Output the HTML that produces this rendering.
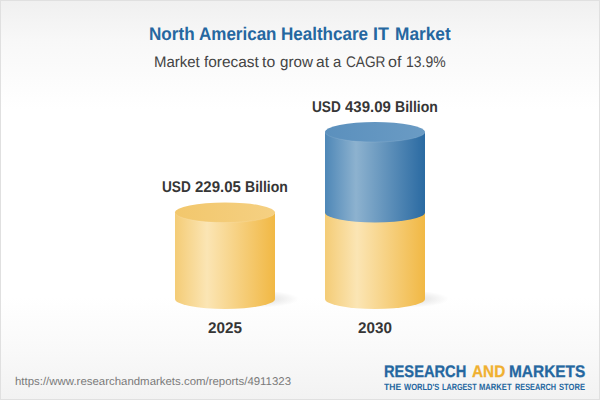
<!DOCTYPE html>
<html><head><meta charset="utf-8">
<style>
html,body{margin:0;padding:0;}
body{width:600px;height:400px;overflow:hidden;position:relative;font-family:"Liberation Sans",sans-serif;background:#fff;}
#bg{position:absolute;left:0;top:0;width:600px;height:400px;box-sizing:border-box;border:1px solid #e0e0e0;
background:linear-gradient(to bottom,#f0f0f0 0px,#f8f8f8 40px,#ffffff 108px,#ffffff 296px,#f9f9f9 350px,#f2f2f2 400px);}
.t{position:absolute;white-space:nowrap;transform-origin:0 0;text-rendering:geometricPrecision;}
.title{top:24px;font-size:18.3px;font-weight:bold;color:#2567a0;line-height:20px;}
.sub{top:53px;font-size:15.4px;color:#444;line-height:20px;}
.lab{font-weight:bold;color:#363636;font-size:15.5px;line-height:18px;}
#url{top:375px;font-size:11.3px;color:#7a7a7a;line-height:14px;}
.lg{font-weight:bold;font-size:16.9px;line-height:18px;top:363px;color:#2567a0;-webkit-text-stroke:0.3px currentColor;}
.tag{font-weight:bold;font-size:9.1px;line-height:10px;top:382.3px;color:#2567a0;}
svg{position:absolute;left:0;top:0;}
/*FIT-START*/
#ti0{left:148.77px;transform:scaleX(0.9359);}
#ti1{left:198.69px;transform:scaleX(0.9303);}
#ti2{left:280.73px;transform:scaleX(0.9309);}
#ti3{left:372.80px;transform:scaleX(0.9761);}
#ti4{left:394.72px;transform:scaleX(0.9443);}
#su0{left:153.51px;transform:scaleX(0.9725);}
#su1{left:203.99px;transform:scaleX(1.0015);}
#su2{left:261.85px;transform:scaleX(1.0255);}
#su3{left:279.82px;transform:scaleX(0.9856);}
#su4{left:315.96px;transform:scaleX(1.0115);}
#su5{left:332.75px;transform:scaleX(0.9668);}
#su6{left:345.78px;transform:scaleX(0.8877);}
#su7{left:387.66px;transform:scaleX(1.0450);}
#su8{left:405.70px;transform:scaleX(0.9072);}
#la0{left:161.79px;transform:scaleX(0.8790);}
#la1{left:194.72px;transform:scaleX(0.9677);}
#la2{left:244.90px;transform:scaleX(0.9059);}
#lb0{left:311.79px;transform:scaleX(0.8790);}
#lb1{left:344.67px;transform:scaleX(0.9669);}
#lb2{left:394.90px;transform:scaleX(0.9059);}
#ya0{left:207.57px;transform:scaleX(0.9864);}
#yb0{left:357.57px;transform:scaleX(0.9822);}
#url{left:14.77px;transform:scaleX(1.0114);}
#w1{left:383.69px;transform:scaleX(0.8683);}
#w2{left:471.89px;transform:scaleX(0.9077);}
#w3{left:508.75px;transform:scaleX(0.9140);}
#tg0{left:383.96px;transform:scaleX(0.9391);}
#tg1{left:403.77px;transform:scaleX(0.8311);}
#tg2{left:441.76px;transform:scaleX(0.7970);}
#tg3{left:478.63px;transform:scaleX(0.8378);}
#tg4{left:514.83px;transform:scaleX(0.8056);}
#tg5{left:558.62px;transform:scaleX(0.8351);}
/*FIT-END*/
</style></head><body>
<div id="bg"></div>
<svg width="600" height="400" viewBox="0 0 600 400">
<defs>
<linearGradient id="gy" x1="0" x2="1" y1="0" y2="0">
<stop offset="0" stop-color="#f4cc76"/>
<stop offset="0.32" stop-color="#fbe5b4"/>
<stop offset="1" stop-color="#f1b844"/>
</linearGradient>
<linearGradient id="gb" x1="0" x2="1" y1="0" y2="0">
<stop offset="0" stop-color="#4e87b7"/>
<stop offset="0.31" stop-color="#8db2cf"/>
<stop offset="1" stop-color="#2a6aa2"/>
</linearGradient>
<linearGradient id="ty" x1="0" x2="1" y1="0" y2="0"><stop offset="0" stop-color="#f2c76c"/><stop offset="1" stop-color="#f5d082"/></linearGradient>
<linearGradient id="tb" x1="0" x2="1" y1="0" y2="0"><stop offset="0" stop-color="#5b90bd"/><stop offset="1" stop-color="#6a9bc4"/></linearGradient>
<radialGradient id="sh" cx="0.5" cy="0.5" r="0.5">
<stop offset="0" stop-color="#000" stop-opacity="0.14"/>
<stop offset="1" stop-color="#000" stop-opacity="0"/>
</radialGradient>
</defs>
<ellipse cx="260" cy="299" rx="39" ry="8.5" fill="url(#sh)"/>
<ellipse cx="410" cy="299" rx="39" ry="8.5" fill="url(#sh)"/>
<path d="M175 212.5 L175 299 A50 10 0 0 0 275 299 L275 212.5 Z" fill="url(#gy)"/>
<ellipse cx="225" cy="212.5" rx="50" ry="10" fill="url(#ty)"/>
<path d="M175 212.5 A50 10 0 0 0 275 212.5" fill="none" stroke="#fff" stroke-opacity="0.14" stroke-width="0.8"/>
<path d="M325 212.5 L325 299 A50 10 0 0 0 425 299 L425 212.5 Z" fill="url(#gy)"/>
<path d="M325 132 L325 212.5 A50 10 0 0 0 425 212.5 L425 132 Z" fill="url(#gb)"/>
<ellipse cx="375" cy="132" rx="50" ry="10" fill="url(#tb)"/>
<path d="M325 132 A50 10 0 0 0 425 132" fill="none" stroke="#fff" stroke-opacity="0.12" stroke-width="0.8"/>
</svg>
<div class="t title" id="ti0">North</div>
<div class="t title" id="ti1">American</div>
<div class="t title" id="ti2">Healthcare</div>
<div class="t title" id="ti3">IT</div>
<div class="t title" id="ti4">Market</div>
<div class="t sub" id="su0">Market</div>
<div class="t sub" id="su1">forecast</div>
<div class="t sub" id="su2">to</div>
<div class="t sub" id="su3">grow</div>
<div class="t sub" id="su4">at</div>
<div class="t sub" id="su5">a</div>
<div class="t sub" id="su6">CAGR</div>
<div class="t sub" id="su7">of</div>
<div class="t sub" id="su8">13.9%</div>
<div class="t lab" id="la0" style="top:178.5px;">USD</div>
<div class="t lab" id="la1" style="top:178.5px;">229.05</div>
<div class="t lab" id="la2" style="top:178.5px;">Billion</div>
<div class="t lab" id="lb0" style="top:98.5px;">USD</div>
<div class="t lab" id="lb1" style="top:98.5px;">439.09</div>
<div class="t lab" id="lb2" style="top:98.5px;">Billion</div>
<div class="t lab" id="ya0" style="top:320px;">2025</div>
<div class="t lab" id="yb0" style="top:320px;">2030</div>
<div class="t " id="url">https://www.researchandmarkets.com/reports/4911323</div>
<div class="t lg" id="w1">RESEARCH</div>
<div class="t lg" id="w2" style="color:#f0b030;">AND</div>
<div class="t lg" id="w3">MARKETS</div>
<div class="t tag" id="tg0">THE</div>
<div class="t tag" id="tg1">WORLD'S</div>
<div class="t tag" id="tg2">LARGEST</div>
<div class="t tag" id="tg3">MARKET</div>
<div class="t tag" id="tg4">RESEARCH</div>
<div class="t tag" id="tg5">STORE</div>
</body></html>
